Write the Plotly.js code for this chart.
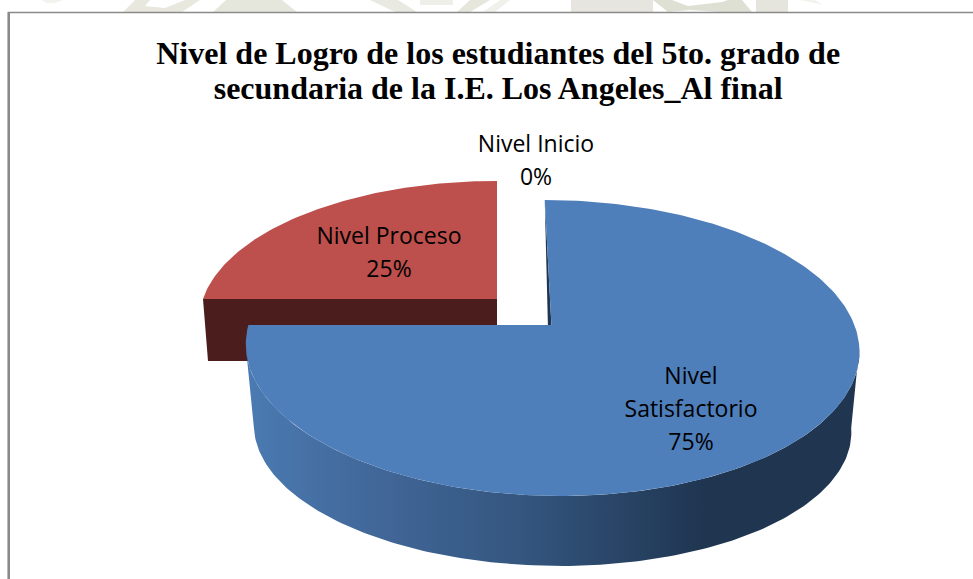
<!DOCTYPE html>
<html><head><meta charset="utf-8">
<script src="https://cdn.plot.ly/plotly-3.0.1.min.js"></script>
<style>html,body{margin:0;padding:0;background:#fff}#c{width:973px;height:579px}</style>
</head><body><div id="c"></div>
<script>
const categories = ['Nivel Inicio', 'Nivel Proceso', 'Nivel Satisfactorio'];
const shares = [0, 25, 75];
const labelLines = [['Nivel Inicio', '0%'], ['Nivel Proceso', '25%'], ['Nivel', 'Satisfactorio', '75%']];
const labelCentres = [[536, 163], [389, 255], [691, 411]];
const titleLines = ['Nivel de Logro de los estudiantes del 5to. grado de', 'secundaria de la I.E. Los Angeles_Al final'];

// perspective of the tilted disc: unit circle -> page pixels
const tilt = 0.1554;
const proj = (p, u, v) => [(p.x0 + p.b * u + p.c * v) / (1 + tilt * v), (p.y0 + p.a * v) / (1 + tilt * v)];
const blueTop = {x0: 551.4, b: 303, c: 78, y0: 325, a: -93.9};
const blueLow = {x0: 551.4, b: 295, c: 78, y0: 407.4, a: -70.6};
const redTop  = {x0: 497, b: 294, c: 77.2, y0: 299, a: -89.9};
const redLow  = {x0: 497, b: 289, c: 77.2, y0: 361, a: 0};
const wallFrom = 98.6, wallTo = 261.4; // silhouette angles of the side wall

const total = shares.reduce((a, b) => a + b, 0);
// slices run clockwise from 12 o'clock in data order
const satStart = 0, satEnd = 360 * shares[2] / total;
const proEnd = 360, proStart = proEnd - 360 * shares[1] / total;

function arc(p, d0, d1) {
  const pts = [], n = Math.max(2, Math.ceil(Math.abs(d1 - d0)));
  for (let i = 0; i <= n; i++) {
    const t = (d0 + (d1 - d0) * i / n) * Math.PI / 180;
    pts.push(proj(p, Math.sin(t), Math.cos(t)));
  }
  return pts;
}
function poly(pts, color, extra) {
  const closed = pts.concat([pts[0]]);
  return Object.assign({
    type: 'scatter', mode: 'lines', x: closed.map(q => q[0]), y: closed.map(q => q[1]),
    fill: 'toself', fillcolor: color, line: {width: 0, color: color}, hoverinfo: 'skip', showlegend: false
  }, extra || {});
}
const traces = [];
// red cut face, then red top
traces.push(poly([proj(redTop, Math.sin(proStart * Math.PI / 180), 0), proj(redTop, 0, 0), proj(redLow, 0, 0), proj(redLow, -1, 0)], '#4b1e1d'));
traces.push(poly(arc(redTop, proStart, proEnd).concat([proj(redTop, 0, 0)]), '#bd4f4c'));
// blue outer wall with its left-to-right shading
traces.push(poly(arc(blueTop, wallFrom, wallTo).concat(arc(blueLow, wallTo, wallFrom)), '#2c4d75', {
  fillgradient: {type: 'horizontal', colorscale: [[0, '#4a7bb2'], [0.2, '#42689a'], [0.45, '#34567f'], [0.75, '#1f3550'], [1, '#1f3550']]}
}));
// blue inner cut face seen at 12 o'clock
const a0 = proj(blueTop, 0, 0), t0 = proj(blueTop, 0, 1);
traces.push(poly([t0, a0, [a0[0] - 3.5, a0[1]]], '#1f3550'));
// blue top
traces.push(poly(arc(blueTop, satStart, satEnd).concat([a0]), '#4e7fbb'));

// data labels, one point per line
const lx = [], ly = [], lt = [];
labelLines.forEach((lines, i) => lines.forEach((s, j) => {
  lx.push(labelCentres[i][0]);
  ly.push(labelCentres[i][1] + (j - (lines.length - 1) / 2) * 33);
  lt.push(s);
}));
traces.push({type: 'scatter', mode: 'text', x: lx, y: ly, text: lt, textposition: 'middle center',
  textfont: {family: 'Open Sans, sans-serif', size: 23, color: '#000'}, hoverinfo: 'skip', showlegend: false, cliponaxis: false});

// faint scanned watermark above the chart frame
const wm = (path, color) => ({type: 'path', xref: 'x', yref: 'y', path: path, fillcolor: color, line: {width: 0}, layer: 'below'});
const watermark = [
  wm('M42,0 L63,0 L55,3 L46,3 Z', '#f3f3ee'),
  wm('M123,12 L135,0 L150,0 L145,6 L165,8 L185,0 L200,0 L182,12 Z', '#e8e8df'),
  wm('M213,12 L226,0 L282,0 L297,12 Z', '#e6e7dc'),
  wm('M370,0 L398,0 L417,12 L395,12 Z', '#e9e9e1'),
  wm('M420,0 L453,0 L453,5 L420,5 Z', '#efefe9'),
  wm('M457,12 L470,0 L490,0 L470,12 Z', '#e6e6dc'),
  wm('M483,12 L500,0 L510,0 L495,12 Z', '#f1f1ec'),
  wm('M571,0 L653,0 L653,12 L571,12 Z', '#e6e5df'),
  wm('M653,0 L672,0 L688,6 L722,2 L728,0 L742,0 L752,12 L720,12 L690,10 L668,12 Z', '#dfe0d4'),
  wm('M756,0 L788,0 L788,12 L756,12 Z', '#e5e5dd'),
  wm('M800,0 L815,0 L823,5 Z', '#f3f3ee')
];

const hidden = {visible: false, fixedrange: true};
const titleText = titleLines.map(s => '<span style="font-size:32px">' + s + '</span>').join('<br>');
Plotly.newPlot('c', traces, {
  width: 973, height: 579, margin: {l: 0, r: 0, t: 0, b: 0, pad: 0},
  paper_bgcolor: '#fff', plot_bgcolor: '#fff', showlegend: false,
  title: {text: titleText, font: {family: 'Liberation Serif, serif', size: 27, color: '#000', weight: 'bold'},
          x: 0.512, xanchor: 'center', y: 0.889, yanchor: 'middle'},
  xaxis: Object.assign({range: [0, 973]}, hidden),
  yaxis: Object.assign({range: [579, 0]}, hidden),
  shapes: watermark.concat([
    {type: 'rect', xref: 'x', yref: 'y', x0: 8.5, y0: 12.5, x1: 980, y1: 590, line: {color: '#8a8a8a', width: 1.6}, fillcolor: 'rgba(0,0,0,0)', layer: 'below'},
    {type: 'line', xref: 'x', yref: 'y', x0: 8.8, y0: 12, x1: 8.8, y1: 579, line: {color: '#8a8a8a', width: 2.4}, layer: 'below'}
  ])
}, {displayModeBar: false, staticPlot: true});
</script></body></html>
